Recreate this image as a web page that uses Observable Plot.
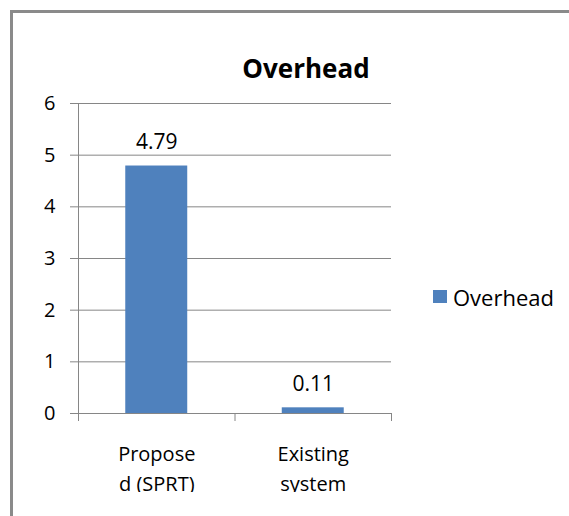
<!DOCTYPE html>
<html>
<head>
<meta charset="utf-8">
<script src="https://cdn.jsdelivr.net/npm/d3@7"></script>
<script src="https://cdn.jsdelivr.net/npm/@observablehq/plot@0.6"></script>
<style>
  html, body { margin: 0; padding: 0; background: white; }
  #wrap { position: relative; width: 569px; height: 516px; overflow: hidden; background: white; font-family: 'Open Sans', sans-serif; }
  #chart { position: absolute; left: 0; top: 0; }
  #frame { position: absolute; left: 10px; top: 10px; width: 700px; height: 700px; border-left: 3px solid #8a8a8a; border-top: 3px solid #8a8a8a; }
  #title { position: absolute; left: 206px; top: 56px; width: 200px; text-align: center; font-weight: bold; font-size: 26px; line-height: 25px; color: #000; }
  #swatch { position: absolute; left: 433px; top: 290px; width: 14px; height: 13px; background: #4F81BD; }
  #legendText { position: absolute; left: 453px; top: 286px; font-size: 22px; line-height: 22px; color: #000; white-space: nowrap; }
</style>
</head>
<body>
<div id="wrap">
  <div id="chart"></div>
  <div id="frame"></div>
  <div id="title"></div>
  <div id="swatch"></div>
  <div id="legendText"></div>
</div>
<script>
const chartTitle = "Overhead";
const seriesName = "Overhead";
const categories = ["Proposed (SPRT)", "Existing system"];
const categoryLabels = ["Propose\nd (SPRT)", "Existing\nsystem"];
const overhead = [4.79, 0.11];
const valueLabels = ["4.79", "0.11"];
const yTicks = [0, 1, 2, 3, 4, 5, 6];

const data = categories.map((c, i) => ({
  i, name: c, label: categoryLabels[i], value: overhead[i], text: valueLabels[i]
}));
const bandEdges = d3.range(categories.length + 1);
const gray = "#868686";
const half = 0.198;

const chart = Plot.plot({
  width: 569,
  height: 492,
  marginLeft: 78,
  marginRight: 178,
  marginTop: 103,
  marginBottom: 79,
  x: { type: "linear", domain: [0, categories.length] },
  y: { domain: [0, 6] },
  style: { fontFamily: "'Open Sans', sans-serif", fontSize: "20px", color: "#000", background: "white" },
  marks: [
    Plot.ruleY(yTicks, { stroke: gray, strokeWidth: 1 }),
    Plot.axisY({ ticks: yTicks, tickSize: 8, tickPadding: 15, tickFormat: d => String(d), stroke: gray, fill: "#000", label: null, fontSize: 20 }),
    Plot.ruleX([0], { stroke: gray, strokeWidth: 1 }),
    Plot.axisX({ ticks: bandEdges, tickSize: 8, tickFormat: () => "", stroke: gray, label: null }),
    Plot.rectY(data, { x1: d => d.i + 0.5 - half, x2: d => d.i + 0.5 + half, y: "value", fill: "#4F81BD" }),
    Plot.text(data, { x: d => d.i + 0.5, y: "value", text: "text", lineAnchor: "bottom", dy: -17, fontSize: 21, fill: "#000" }),
    Plot.text(data, { x: d => d.i + 0.5, frameAnchor: "bottom", text: "label", lineAnchor: "top", dy: 26, fontSize: 20, lineHeight: 1.5, fill: "#000" })
  ]
});
document.getElementById("chart").appendChild(chart);
document.getElementById("title").textContent = chartTitle;
document.getElementById("legendText").textContent = seriesName;
</script>
</body>
</html>
